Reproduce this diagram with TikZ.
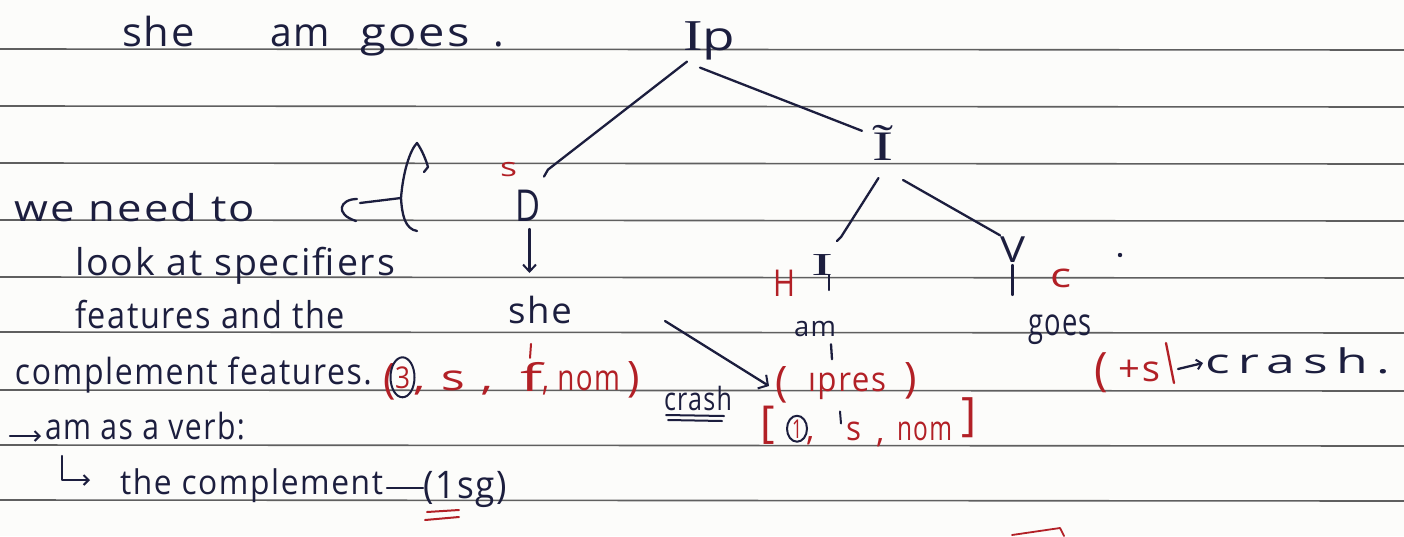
\documentclass[tikz,border=0pt]{standalone}
\usepackage{fontspec}
\setmainfont{Open Sans}
\newfontfamily\serifI{Liberation Serif}
\usepackage{graphicx}
\usetikzlibrary{arrows.meta,calc}
\definecolor{ink}{RGB}{28,30,62}
\definecolor{rink}{RGB}{178,32,38}
\definecolor{rulec}{RGB}{95,95,95}
\definecolor{paper}{RGB}{252,252,250}
\newcommand{\hw}[2]{\resizebox{#1pt}{\height}{\addfontfeature{LetterSpace=5}#2}}
\newcommand{\fs}[1]{\fontsize{#1}{#1}\selectfont}
\tikzset{
  hw/.style={inner sep=0pt, outer sep=0pt, text=ink, anchor=base west},
  rd/.style={text=rink},
  edge/.style={draw=ink, line width=2.3pt, line cap=round, line join=round},
  redge/.style={draw=rink, line width=2.3pt, line cap=round, line join=round},
  ruling/.style={draw=rulec, line width=1.6pt},
  barb/.style={-{Straight Barb[length=7pt,width=13pt,line width=2pt]}},
  sbarb/.style={-{Straight Barb[length=5pt,width=10pt,line width=2pt]}}
}
\begin{document}
\begin{tikzpicture}[x=1pt,y=-1pt]
\fill[paper] (0,0) rectangle (1404,536);
\useasboundingbox (0,0) rectangle (1404,536);
% ruled lines
\foreach \yy in {49,106,163,220,277,332,390,445,500}
  \draw[ruling] (0,\yy) -- (1404,\yy+1);

% title sentence
\node[hw, font=\fs{40}] (w1) at (122,46) {\hw{73}{she}};
\node[hw, font=\fs{40}] (w2) at (270,46) {\hw{60}{am}};
\node[hw, font=\fs{40}] (w3) at (360,46) {\hw{110}{goes}};
\node[hw, font=\fs{40}] (w4) at (493,46) {.};

% left notes
\node[hw, font=\fs{37}] (l1) at (15,221) {\hw{240}{we need to}};
\node[hw, font=\fs{37}] (l2) at (75,275) {\hw{320}{look at specifiers}};
\node[hw, font=\fs{37}] (l3) at (75,328) {\hw{270}{features and the}};
\node[hw, font=\fs{36}] (l4) at (15,384) {\hw{357}{complement features.}};
\coordinate (a5s) at (10,436);
\node[hw, font=\fs{36}] (l5) at (45,439) {\hw{200}{am as a verb:}};
\draw[edge, sbarb] (a5s) -- ($(l5.base west)+(-4,-3)$);
\coordinate (a6s) at (62,456);
\node[hw, font=\fs{34}] (l6) at (120,494) {\hw{263}{the complement}};
\draw[edge, sbarb] (a6s) |- ($(l6.base west)+(-30,-14)$);
\node[hw, font=\fs{38}] (l7) at (423,498) {\hw{84}{(1sg)}};
\draw[edge] ($(l6.base east)+(4,-6)$) -- ($(l7.base west)+(0,-10)$);
\draw[redge, line width=2pt] ($(l7.base west)+(4,14)$) -- ++(32,-2);
\draw[redge, line width=2pt] ($(l7.base west)+(2,22)$) -- ++(34,-3);

% C--{ bracket
\coordinate (cb) at (401,198);
\draw[edge] (357,199) .. controls (340,199) and (334,214) .. (356,221);
\draw[edge] (360,203) -- (cb);
\draw[edge] (417,231) .. controls (405,229) and (402,215) .. (cb)
   .. controls (403,172) and (410,150) .. (417,143)
   .. controls (422,150) and (426,160) .. (428,167) -- (424,172);

% tree
\node[hw, font=\fs{40}] (ip) at (683,50) {\hw{52}{{\serifI\fs{44}I}p}};
\node[hw, font=\fs{42}] (it) at (872,160) {\resizebox{21pt}{\height}{\serifI Ĩ}};
\node[hw, font=\fs{44}] (d) at (515,221) {\resizebox{25pt}{\height}{D}};
\node[hw, rd, font=\fs{26}] (ds) at (500,176) {\resizebox{17pt}{\height}{s}};
\node[hw, font=\fs{32}] (ii) at (811,275) {\resizebox{22pt}{\height}{\serifI I}};
\node[hw, rd, font=\fs{37}] (h) at (773,296) {\resizebox{22pt}{\height}{H}};
\node[hw, font=\fs{36}] (v) at (1000,262) {\resizebox{25pt}{\height}{V}};
\node[hw, rd, font=\fs{34}] (c) at (1050,287) {\resizebox{21pt}{\height}{c}};
\fill[ink] (1120,255) circle (2.2);
\node[hw, font=\fs{36}] (she) at (508,323) {\hw{64}{she}};
\node[hw, font=\fs{28}] (am) at (794,336) {\hw{42}{am}};
\node[hw, font=\fs{38}] (goes) at (1028,335) {\hw{64}{goes}};

\draw[edge] ($(ip.south west)+(4,2)$) -- ($(d.north east)+(8,-20)$) -- ++(-4,7);
\draw[edge] ($(ip.south)+(-9,8)$) -- ($(it.north west)+(-10,6)$);
\draw[edge] ($(it.south)+(-4,18)$) -- ($(ii.north east)+(8,-17)$) -- ++(-4,4);
\draw[edge] ($(it.south east)+(10,20)$) -- ($(v.north west)+(0,-1)$);
\draw[edge] ($(v.south)+(0,3)$) -- ++(0,30);
\draw[edge] ($(ii.south east)+(-4,0)$) -- ++(0,15);
\draw[edge, barb] ($(d.south)+(2,8)$) -- ($(d.south)+(2,52)$);

% features of she
\node[hw, rd, font=\fs{42}] (p1) at (383,393) {(};
\node[hw, rd, font=\fs{30}] (n3) at (395,388) {\resizebox{15pt}{\height}{3}};
\draw[edge, line width=2pt] (n3) ellipse (12 and 20);
\node[hw, rd, font=\fs{36}] (p2) at (413,390) {\hw{80}{, s ,}};
\node[hw, rd, font=\fs{38}] (p3) at (520,391) {\resizebox{22pt}{\height}{f}};
\node[hw, rd, font=\fs{36}] (p4) at (542,390) {\hw{78}{, nom}};
\node[hw, rd, font=\fs{42}] (p5) at (627,391) {)};
\draw[redge, line width=2pt] ($(p3.north)+(-1,-4)$) -- ++(1,-14);

% crash + arrow
\node[hw, font=\fs{32}] (cr) at (664,410) {\hw{68}{crash}};
\draw[edge, line width=2pt] ($(cr.base west)+(2,5)$) -- ++(58,1);
\draw[edge, line width=2pt] ($(cr.base west)+(4,10)$) -- ++(54,1);

% features of am
\node[hw, rd, font=\fs{42}] (q1) at (775,396) {(};
\node[hw, rd, font=\fs{34}] (q2) at (808,391) {\hw{78}{ıpres}};
\node[hw, rd, font=\fs{42}] (q3) at (904,392) {)};
\coordinate (as) at (665,321);
\draw[edge, -{Straight Barb[length=7pt,width=16pt,line width=2pt]}] (as) -- ($(q1.base west)+(-6,-10)$);
\draw[edge] ($(am.south)+(16,8)$) -- ++(1,15);

\node[hw, rd, font=\fs{44}] (r1) at (760,437) {[};
\node[hw, rd, font=\fs{26}] (r2) at (792,438) {\resizebox{10pt}{\height}{1}};
\draw[edge, line width=2pt] (r2) ellipse (10 and 13);
\node[hw, rd, font=\fs{34}] (r3) at (806,440) {,};
\node[hw, rd, font=\fs{34}] (r4) at (846,440) {\resizebox{15pt}{\height}{s}};
\node[hw, rd, font=\fs{34}] (r5) at (876,442) {,};
\node[hw, rd, font=\fs{34}] (r6) at (897,440) {\hw{55}{nom}};
\node[hw, rd, font=\fs{46}] (r7) at (961,430) {]};
\draw[edge, line width=2pt] ($(r4.north west)+(-6,-10)$) -- ++(1,12);

% (+s) -> crash.
\node[hw, rd, font=\fs{46}] (g1) at (1094,385) {(};
\node[hw, rd, font=\fs{36}] (g2) at (1118,381) {\hw{42}{+s}};
\draw[redge] ($(g2.base east)+(6,-38)$) -- ++(8,40);
\node[hw, font=\fs{34}] (g3) at (1205,373) {\resizebox{185pt}{\height}{\addfontfeature{LetterSpace=16}crash.}};
\draw[edge, sbarb] ($(g2.base east)+(18,-12)$) -- ($(g3.base west)+(-2,-10)$);

% stray red stroke at bottom
\draw[redge, line width=1.8pt] (1012,535) -- (1060,528) -- (1064,536);
\end{tikzpicture}
\end{document}
